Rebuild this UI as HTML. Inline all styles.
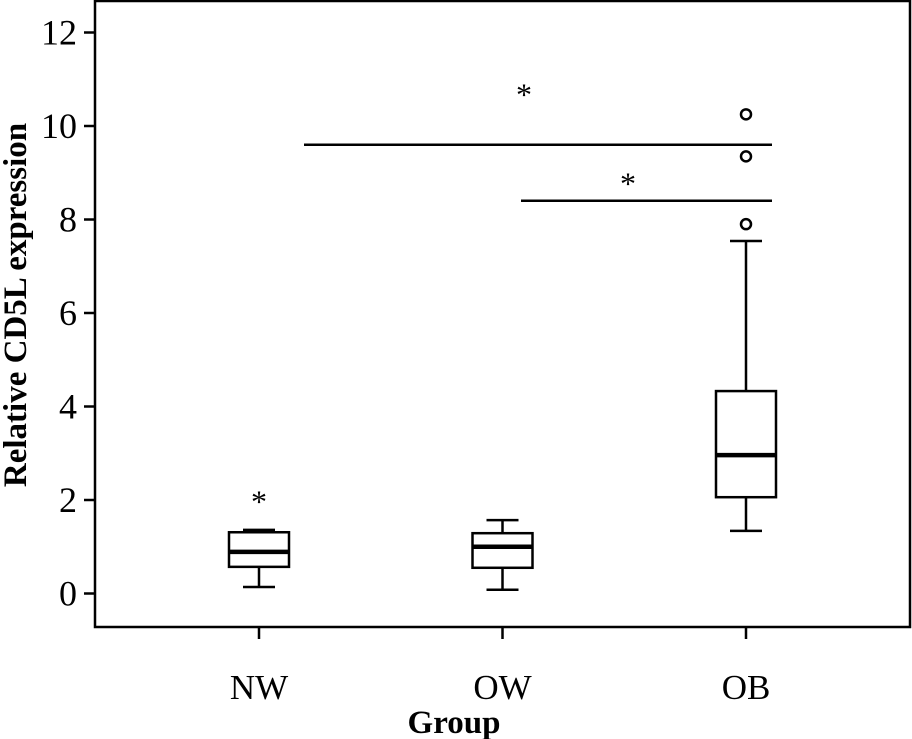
<!DOCTYPE html>
<html><head><meta charset="utf-8"><style>
html,body{margin:0;padding:0;background:#fff;}
svg{display:block;}
text{font-family:"Liberation Serif",serif;fill:#000;}
</style></head><body>
<svg id="chart" width="912" height="739" viewBox="0 0 912 739">
  <rect x="95" y="1" width="815" height="626" fill="none" stroke="#000" stroke-width="2.5"/>
  <g id="yaxis"></g>
  <g id="xaxis"></g>
  <g id="boxes"></g>
  <text x="0" y="0" transform="translate(26,305) rotate(-90)" text-anchor="middle" font-size="33" font-weight="bold">Relative CD5L expression</text>
  <text x="454" y="733" text-anchor="middle" font-size="33" font-weight="bold">Group</text>
</svg>
<script>
const categories = ["NW", "OW", "OB"];
const whiskerLow = [0.14, 0.08, 1.34];
const q1 = [0.57, 0.55, 2.06];
const medians = [0.89, 1.0, 2.96];
const q3 = [1.31, 1.29, 4.33];
const whiskerHigh = [1.36, 1.57, 7.54];
const outliers = [[], [], [7.9, 9.35, 10.25]];
const extremes = [[2.1], [], []];
const yTicks = [0, 2, 4, 6, 8, 10, 12];
const sigBrackets = [[0, 2, 9.6, 10.8], [1, 2, 8.4, 8.9]];

const NS = "http://www.w3.org/2000/svg";
function y(v){ return 593.5 - v * 46.75; }
function x(i){ return 259 + i * 243.5; }
function mk(tag, attrs, parent){
  const e = document.createElementNS(NS, tag);
  for (const k in attrs) e.setAttribute(k, attrs[k]);
  parent.appendChild(e);
  return e;
}
const SW = 2.5;
const yg = document.getElementById('yaxis');
yTicks.forEach(t => {
  const l = mk('line', {x1:84, x2:95, y1:y(t), y2:y(t), stroke:'#000', 'stroke-width':SW}, yg);
  
  
  const tx = mk('text', {x:77, y:y(t)+12, 'text-anchor':'end', 'font-size':36}, yg);
  tx.textContent = t;
  
  
});
const xg = document.getElementById('xaxis');
const bg = document.getElementById('boxes');
categories.forEach((c, i) => {
  const cx = x(i);
  const tk = mk('line', {x1:cx, x2:cx, y1:627, y2:639, stroke:'#000', 'stroke-width':SW}, xg);
  
  
  const tl = mk('text', {x:cx, y:699, 'text-anchor':'middle', 'font-size':35}, xg);
  tl.textContent = c;
  
  
  const g = mk('g', {}, bg);
  
  
  mk('line', {x1:cx, x2:cx, y1:y(whiskerLow[i]), y2:y(q1[i]), stroke:'#000', 'stroke-width':SW}, g);
  mk('line', {x1:cx, x2:cx, y1:y(q3[i]), y2:y(whiskerHigh[i]), stroke:'#000', 'stroke-width':SW}, g);
  mk('line', {x1:cx-16, x2:cx+16, y1:y(whiskerLow[i]), y2:y(whiskerLow[i]), stroke:'#000', 'stroke-width':SW}, g);
  mk('line', {x1:cx-16, x2:cx+16, y1:y(whiskerHigh[i]), y2:y(whiskerHigh[i]), stroke:'#000', 'stroke-width':SW}, g);
  mk('rect', {x:cx-30, y:y(q3[i]), width:60, height:y(q1[i])-y(q3[i]), fill:'#fff', stroke:'#000', 'stroke-width':SW}, g);
  mk('line', {x1:cx-30, x2:cx+30, y1:y(medians[i]), y2:y(medians[i]), stroke:'#000', 'stroke-width':4.5}, g);
  outliers[i].forEach(v => {
    const o = mk('circle', {cx:cx, cy:y(v), r:5, fill:'#fff', stroke:'#000', 'stroke-width':SW}, g);
    
    
  });
  extremes[i].forEach(v => {
    const s = mk('text', {x:cx, y:y(v)+17, 'text-anchor':'middle', 'font-size':32}, g);
    s.textContent = '*';
    
    
  });
});
sigBrackets.forEach(b => {
  const x1 = b[0] === 0 ? 304 : 521;
  const ln = mk('line', {x1:x1, x2:772, y1:y(b[2]), y2:y(b[2]), stroke:'#000', 'stroke-width':SW}, bg);
  
  
  const st = mk('text', {x:b[0] === 0 ? 524 : 628, y:y(b[3])+17, 'text-anchor':'middle', 'font-size':32}, bg);
  st.textContent = '*';
  
  
});
</script>
</body></html>
